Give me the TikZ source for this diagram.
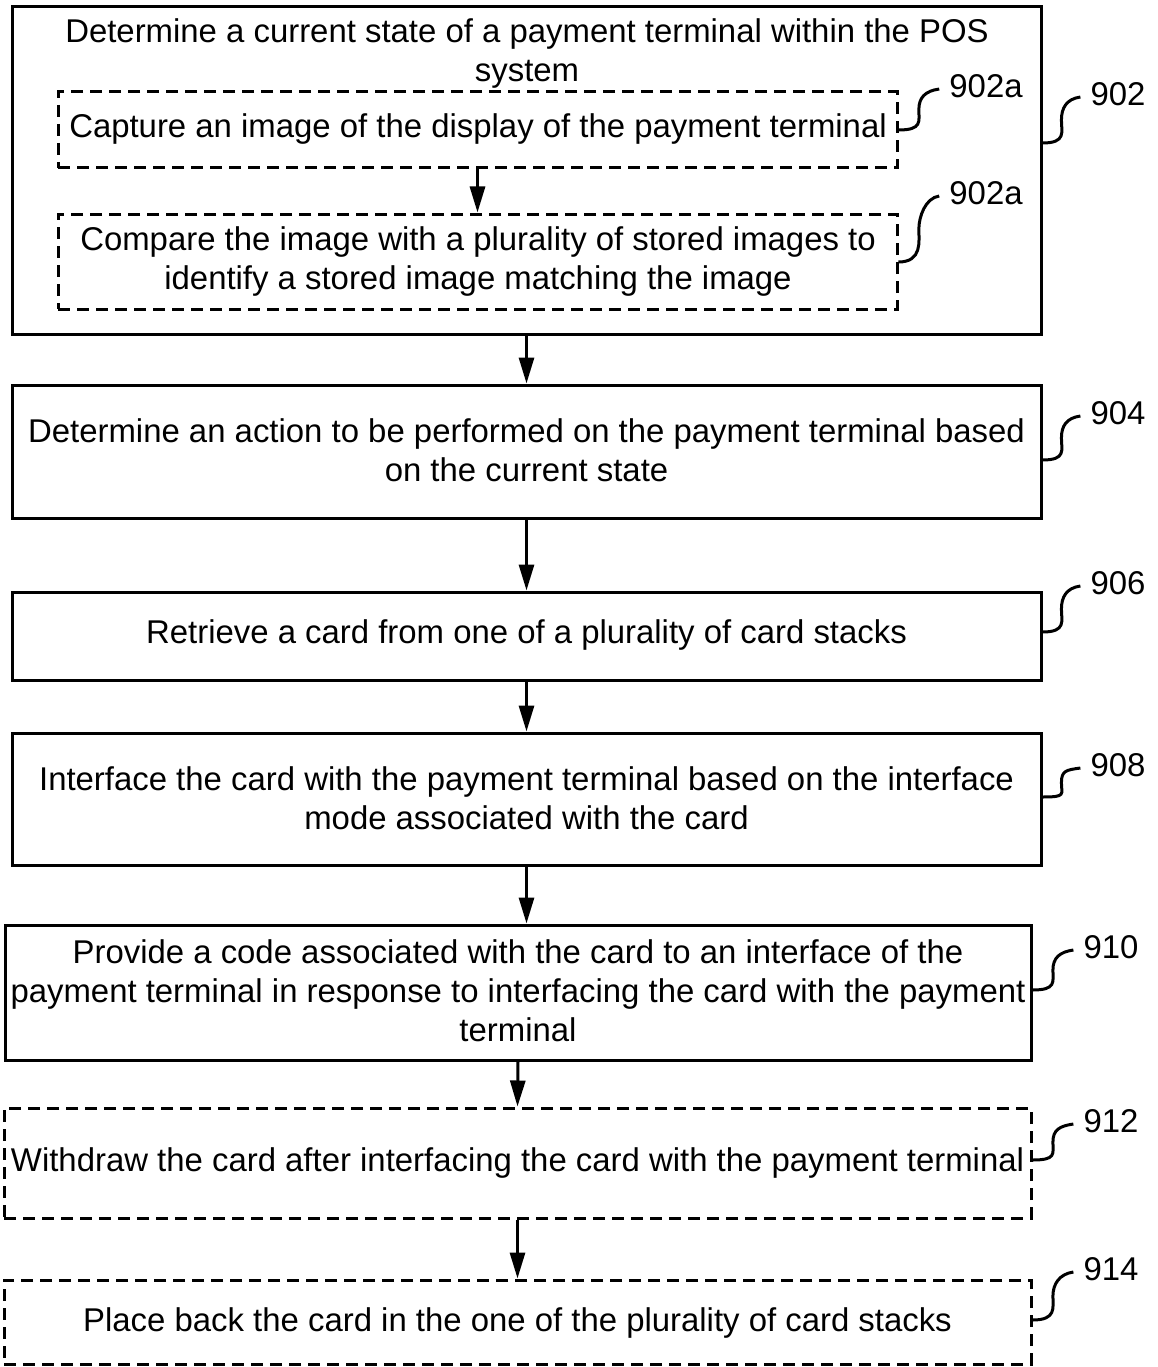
\documentclass[tikz,border=0pt]{standalone}
\usepackage{fontspec}
\setmainfont{Liberation Sans}
\usetikzlibrary{arrows.meta,calc}
\newcommand\myfs{\fontsize{32.9}{39}\selectfont}
\tikzset{
  box/.style={draw, line width=3pt, inner sep=0pt, align=center, font=\myfs},
  dbox/.style={box, dash pattern=on 12pt off 7pt},
  txt/.style={inner sep=0pt, align=center, font=\myfs},
  lbl/.style={inner sep=0pt, font=\myfs},
  arr/.style={line width=3pt, -{Triangle[length=26pt,width=15pt]}},
  squig/.style={line width=3pt,
    to path={(\tikztostart) .. controls ($(\tikztostart)+(24pt,0)$) and ($(\tikztostart)!0.5!(\tikztotarget)+(0pt,-12pt)$) .. ($(\tikztostart)!0.5!(\tikztotarget)$) .. controls ($(\tikztostart)!0.5!(\tikztotarget)+(0pt,12pt)$) and ($(\tikztotarget)+(-14pt,-2pt)$) .. (\tikztotarget)}}
}
\begin{document}
\begin{tikzpicture}[x=1pt,y=-1pt]
\useasboundingbox (0,0) rectangle (1158,1367);
% boxes
\node[box, minimum width=1029pt, minimum height=327pt] (b902) at (526.5,170.5) {};
\node[txt] (t902) at (527,53) {Determine a current state of a payment terminal within the POS\\system};
\node[dbox, minimum width=839pt, minimum height=76pt] (c1) at (477.5,130) {};
\node[txt] at (478,129) {Capture an image of the display of the payment terminal};
\node[dbox, minimum width=839pt, minimum height=95pt] (c2) at (477.5,261.5) {};
\node[txt] at (478,261) {Compare the image with a plurality of stored images to\\identify a stored image matching the image};
\node[box, minimum width=1029pt, minimum height=133pt] (b904) at (526.5,451.5) {};
\node[txt] at (526.5,450.5) {Determine an action to be performed on the payment terminal based\\on the current state};
\node[box, minimum width=1029pt, minimum height=88pt] (b906) at (526.5,636) {};
\node[txt] at (526.5,635) {Retrieve a card from one of a plurality of card stacks};
\node[box, minimum width=1029pt, minimum height=132pt] (b908) at (526.5,799) {};
\node[txt] at (526.5,798.5) {Interface the card with the payment terminal based on the interface\\mode associated with the card};
\node[box, minimum width=1026pt, minimum height=135pt] (b910) at (518,992.5) {};
\node[txt] at (518,991) {Provide a code associated with the card to an interface of the\\payment terminal in response to interfacing the card with the payment\\terminal};
\node[dbox, minimum width=1027pt, minimum height=110pt] (b912) at (517.5,1163) {};
\node[txt] at (517.5,1163) {Withdraw the card after interfacing the card with the payment terminal};
\node[dbox, minimum width=1027pt, minimum height=84pt] (b914) at (517.5,1322) {};
\node[txt] at (517.5,1323) {Place back the card in the one of the plurality of card stacks};
% arrows
\draw[arr] (c1.south) -- (c2.north);
\draw[arr] (b902.south) -- (b904.north);
\draw[arr] (b904.south) -- (b906.north);
\draw[arr] (b906.south) -- (b908.north);
\draw[arr] (b908.south) -- (b908.south |- b910.north);
\draw[arr] (b910.south) -- (b912.north);
\draw[arr] (b912.south) -- (b914.north);
% labels
\node[lbl] (l902a1) at (986,86) {902a};
\node[lbl] (l902a2) at (986,193) {902a};
\node[lbl] (l902) at (1118,94) {902};
\node[lbl] (l904) at (1118,413) {904};
\node[lbl] (l906) at (1118,583) {906};
\node[lbl] (l908) at (1118,765) {908};
\node[lbl] (l910) at (1111,947) {910};
\node[lbl] (l912) at (1111,1121) {912};
\node[lbl] (l914) at (1111,1269) {914};
\draw[squig] (c1.east |- 0,130) to ([xshift=-10pt,yshift=-3pt]l902a1.west);
\draw[squig] (c2.east |- 0,262) to ([xshift=-10pt,yshift=-3pt]l902a2.west);
\draw[squig] (b902.east |- 0,143) to ([xshift=-10pt,yshift=-3pt]l902.west);
\draw[squig] (b904.east |- 0,460) to ([xshift=-10pt,yshift=-3pt]l904.west);
\draw[squig] (b906.east |- 0,632) to ([xshift=-10pt,yshift=-3pt]l906.west);
\draw[squig] (b908.east |- 0,797) to ([xshift=-10pt,yshift=-3pt]l908.west);
\draw[squig] (b910.east |- 0,990) to ([xshift=-10pt,yshift=-3pt]l910.west);
\draw[squig] (b912.east |- 0,1160) to ([xshift=-10pt,yshift=-3pt]l912.west);
\draw[squig] (b914.east |- 0,1320) to ([xshift=-10pt,yshift=-3pt]l914.west);
\end{tikzpicture}
\end{document}
